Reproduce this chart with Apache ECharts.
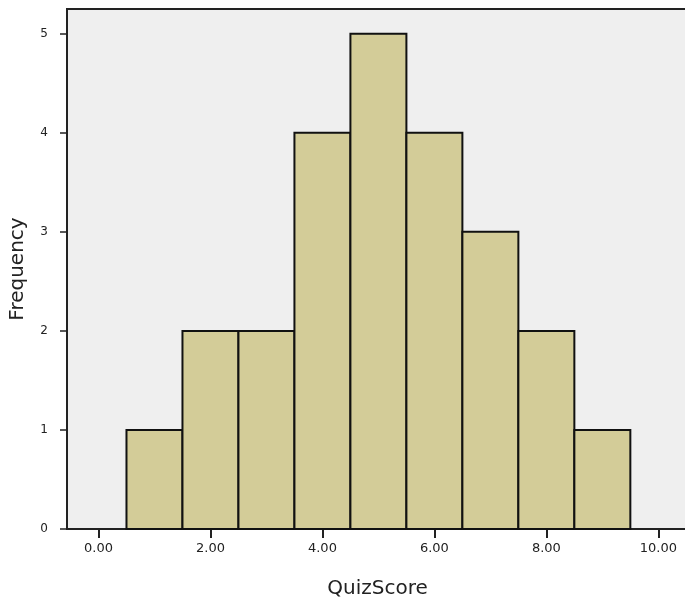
<!DOCTYPE html>
<html><head><meta charset="utf-8">
<script src="https://cdn.jsdelivr.net/npm/echarts@6/dist/echarts.min.js"></script>
<style>html,body{margin:0;padding:0;background:#fff}#c{width:685px;height:603px}</style>
</head><body><div id="c"></div>
<script>
var binCenters = [1, 2, 3, 4, 5, 6, 7, 8, 9];
var frequencies = [1, 2, 2, 4, 5, 4, 3, 2, 1];
var xTicks = [0, 2, 4, 6, 8, 10];
var yTicks = [0, 1, 2, 3, 4, 5];
var binWidth = 1;

var chart = echarts.init(document.getElementById('c'), null, {renderer: 'canvas'});
chart.setOption({
  animation: false,
  backgroundColor: '#ffffff',
  grid: {left: 67, top: 9, right: -3, bottom: 74, show: true, backgroundColor: '#efefef', borderColor: '#222', borderWidth: 2, outerBoundsMode: 'none', containLabel: false},
  xAxis: {
    type: 'value', min: -0.5625, max: 10.53,
    name: 'QuizScore', nameLocation: 'middle', nameGap: 50,
    nameTextStyle: {fontFamily: 'DejaVu Sans', fontSize: 20, color: '#222'},
    axisLine: {show: true, onZero: false, lineStyle: {color: '#222', width: 2}},
    axisTick: {show: true, customValues: xTicks, length: 9, lineStyle: {color: '#222', width: 2}},
    axisLabel: {customValues: xTicks, margin: 13, fontFamily: 'DejaVu Sans', fontSize: 13, color: '#222',
      formatter: function (v) { return v.toFixed(2); }},
    splitLine: {show: false}
  },
  yAxis: {
    type: 'value', min: 0, max: 5.25,
    name: 'Frequency', nameLocation: 'middle', nameGap: 39,
    nameTextStyle: {fontFamily: 'DejaVu Sans', fontSize: 20, color: '#222'},
    axisLine: {show: true, onZero: false, lineStyle: {color: '#222', width: 2}},
    axisTick: {show: true, customValues: yTicks, length: 7, lineStyle: {color: '#222', width: 1.5}},
    axisLabel: {customValues: yTicks, margin: 19, fontFamily: 'DejaVu Sans', fontSize: 12, color: '#222'},
    splitLine: {show: false}
  },
  series: [{
    type: 'custom',
    data: binCenters.map(function (c, i) { return [c, frequencies[i]]; }),
    renderItem: function (params, api) {
      var c = api.value(0), f = api.value(1);
      var p0 = api.coord([c - binWidth / 2, f]);
      var p1 = api.coord([c + binWidth / 2, 0]);
      return {
        type: 'rect',
        shape: {x: p0[0], y: p0[1], width: p1[0] - p0[0], height: p1[1] - p0[1]},
        style: {fill: '#d3cc98', stroke: '#111', lineWidth: 2}
      };
    }
  }]
});
</script></body></html>
